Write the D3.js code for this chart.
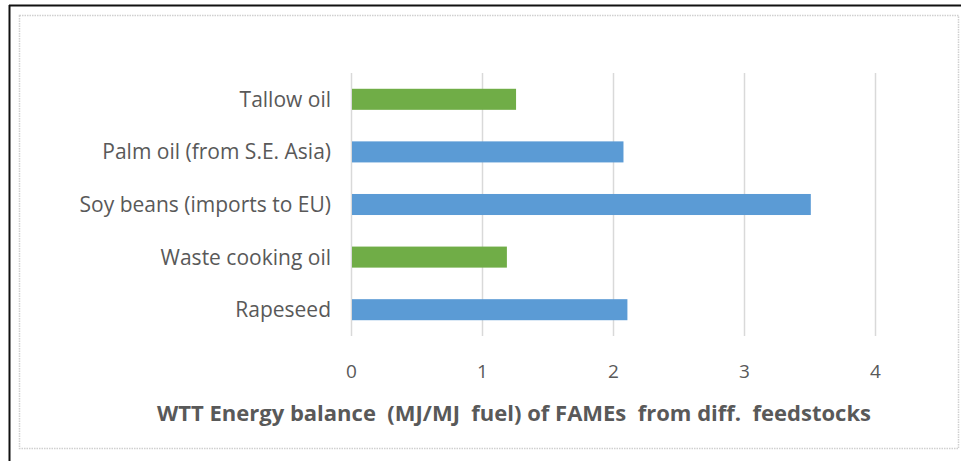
<!DOCTYPE html>
<html>
<head>
<meta charset="utf-8">
<script src="https://cdn.jsdelivr.net/npm/d3@7"></script>
<style>
  html, body { margin: 0; padding: 0; background: #fff; }
  svg { display: block; }
</style>
</head>
<body>
<svg id="chart" width="961" height="461"></svg>
<script>
// Data (top to bottom as shown)
const categories = ["Tallow oil", "Palm oil (from S.E. Asia)", "Soy beans (imports to EU)", "Waste cooking oil", "Rapeseed"];
const values = [1.26, 2.08, 3.51, 1.19, 2.11];
const barColors = ["#70AD47", "#5B9BD5", "#5B9BD5", "#70AD47", "#5B9BD5"];
const tickValues = [0, 1, 2, 3, 4];
const axisTitle = "WTT Energy balance  (MJ/MJ  fuel) of FAMEs  from diff.  feedstocks";

const svg = d3.select("#chart");
const W = 961, H = 461;

// outer black frame (left + top)
svg.append("line").attr("x1", 9.5).attr("x2", 9.5).attr("y1", 5).attr("y2", H).attr("stroke", "#111").attr("stroke-width", 2);
svg.append("line").attr("x1", 9).attr("x2", W).attr("y1", 5.5).attr("y2", 5.5).attr("stroke", "#111").attr("stroke-width", 2);

// inner light border
svg.append("rect").attr("x", 19.5).attr("y", 15.5).attr("width", 939).attr("height", 433)
  .attr("fill", "#fff").attr("stroke", "#d0d0d0").attr("stroke-width", 1.5).attr("stroke-dasharray", "1.5,1");

const x = d3.scaleLinear().domain([0, 4]).range([351, 875]);
const y = d3.scaleBand().domain(categories).range([73, 336]).paddingInner(0.6).paddingOuter(0.3);

// gridlines
svg.append("g").selectAll("line").data(tickValues).join("line")
  .attr("x1", d => x(d) + 0.5).attr("x2", d => x(d) + 0.5)
  .attr("y1", 73).attr("y2", 336)
  .attr("stroke", "#d9d9d9").attr("stroke-width", 1.5);

// bars
svg.append("g").selectAll("rect").data(categories).join("rect")
  .attr("x", x(0) + 1)
  .attr("y", d => y(d))
  .attr("width", (d, i) => x(values[i]) - x(0) - 1)
  .attr("height", y.bandwidth())
  .attr("fill", (d, i) => barColors[i]);

// category labels
const font = "'Open Sans', 'Noto Sans', sans-serif";
svg.append("g").selectAll("text").data(categories).join("text")
  .attr("x", 331).attr("y", d => y(d) + y.bandwidth() / 2)
  .attr("dy", "0.36em").attr("text-anchor", "end")
  .attr("font-family", font).attr("font-size", 21).attr("fill", "#595959")
  .text(d => d);

// x axis tick labels
const xAxis = d3.axisBottom(x).tickValues(tickValues).tickSize(0).tickPadding(0).tickFormat(d3.format("d"));
const gx = svg.append("g").attr("transform", "translate(0,364)").call(xAxis);
gx.select(".domain").remove();
gx.selectAll("text").attr("font-family", font).attr("font-size", 19).attr("fill", "#595959");

// axis title
svg.append("text").attr("x", 514).attr("y", 421).attr("text-anchor", "middle")
  .attr("font-family", font).attr("font-size", 22).attr("font-weight", "bold").attr("fill", "#595959")
  .attr("xml:space", "preserve").style("white-space", "pre")
  .text(axisTitle);
</script>
</body>
</html>
